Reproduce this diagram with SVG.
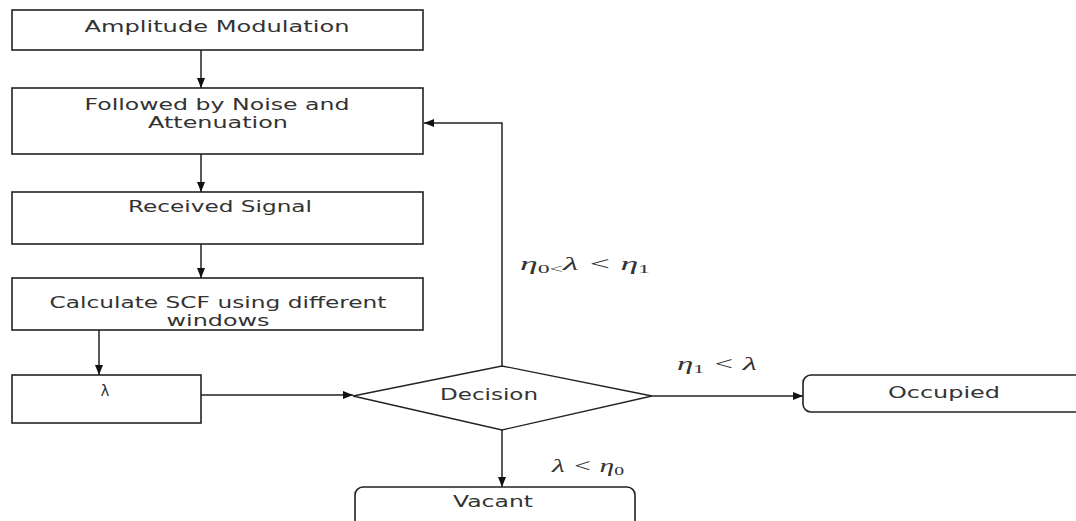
<svg xmlns="http://www.w3.org/2000/svg" width="1076" height="521" viewBox="0 0 1076 521">
<style>
.box{fill:#fff;stroke:#222;stroke-width:1.6}
.lbl{font-family:"DejaVu Sans",sans-serif;font-size:15px;fill:#333;text-anchor:middle}
.math{font-family:"Liberation Serif",serif;font-style:italic;font-size:18px;fill:#333}
.sub{font-size:12px;font-style:normal}
.conn{stroke:#222;stroke-width:1.5;fill:none}
</style>
<defs>
<marker id="ah" viewBox="0 0 10 10" refX="10" refY="5" markerWidth="10" markerHeight="10" markerUnits="userSpaceOnUse" orient="auto"><path d="M0,1 L10,5 L0,9z" fill="#111"/></marker>
</defs>
<rect width="1076" height="521" fill="#fff"/>
<g id="connectors">
<path class="conn" d="M201,50 V88" marker-end="url(#ah)"/>
<path class="conn" d="M201,154 V192" marker-end="url(#ah)"/>
<path class="conn" d="M201,244 V278" marker-end="url(#ah)"/>
<path class="conn" d="M99,330 V375" marker-end="url(#ah)"/>
<path class="conn" d="M201,395 H353" marker-end="url(#ah)"/>
<path class="conn" d="M502,366 V123 H424" marker-end="url(#ah)"/>
<path class="conn" d="M652,396 H803" marker-end="url(#ah)"/>
<path class="conn" d="M502,430 V487" marker-end="url(#ah)"/>
<text class="math" x="520" y="270" textLength="130" lengthAdjust="spacingAndGlyphs">η<tspan class="sub" dy="3">0&lt;</tspan><tspan dy="-3">λ &lt; η</tspan><tspan class="sub" dy="3">1</tspan></text>
<text class="math" x="677" y="370" textLength="80" lengthAdjust="spacingAndGlyphs">η<tspan class="sub" dy="3">1</tspan><tspan dy="-3"> &lt; λ</tspan></text>
<text class="math" x="552" y="472" textLength="72" lengthAdjust="spacingAndGlyphs">λ &lt; η<tspan class="sub" dy="3">0</tspan></text>
</g>
<g id="n1">
<rect class="box" x="12" y="10" width="411" height="40"/>
<text class="lbl" x="217" y="32" textLength="265" lengthAdjust="spacingAndGlyphs">Amplitude Modulation</text>
</g>
<g id="n2">
<rect class="box" x="12" y="88" width="411" height="66"/>
<text class="lbl" x="217" y="110" textLength="265" lengthAdjust="spacingAndGlyphs">Followed by Noise and</text>
<text class="lbl" x="218" y="128" textLength="140" lengthAdjust="spacingAndGlyphs">Attenuation</text>
</g>
<g id="n3">
<rect class="box" x="12" y="192" width="411" height="52"/>
<text class="lbl" x="220" y="212" textLength="184" lengthAdjust="spacingAndGlyphs">Received Signal</text>
</g>
<g id="n4">
<rect class="box" x="12" y="278" width="411" height="52"/>
<text class="lbl" x="218" y="308" textLength="337" lengthAdjust="spacingAndGlyphs">Calculate SCF using different</text>
<text class="lbl" x="218" y="326" textLength="103" lengthAdjust="spacingAndGlyphs">windows</text>
</g>
<g id="n5">
<rect class="box" x="12" y="375" width="189" height="48"/>
<text class="lbl" x="105" y="396">λ</text>
</g>
<g id="decision">
<polygon class="box" points="353,396 502,366 652,396 502,430" style="stroke-width:1.3"/>
<text class="lbl" x="489" y="400" textLength="98" lengthAdjust="spacingAndGlyphs">Decision</text>
</g>
<g id="occupied">
<rect class="box" x="803" y="375" width="290" height="37" rx="8"/>
<text class="lbl" x="944" y="398" textLength="112" lengthAdjust="spacingAndGlyphs">Occupied</text>
</g>
<g id="vacant">
<rect class="box" x="355" y="487" width="280" height="50" rx="8"/>
<text class="lbl" x="493" y="507" textLength="80" lengthAdjust="spacingAndGlyphs">Vacant</text>
</g>
</svg>
